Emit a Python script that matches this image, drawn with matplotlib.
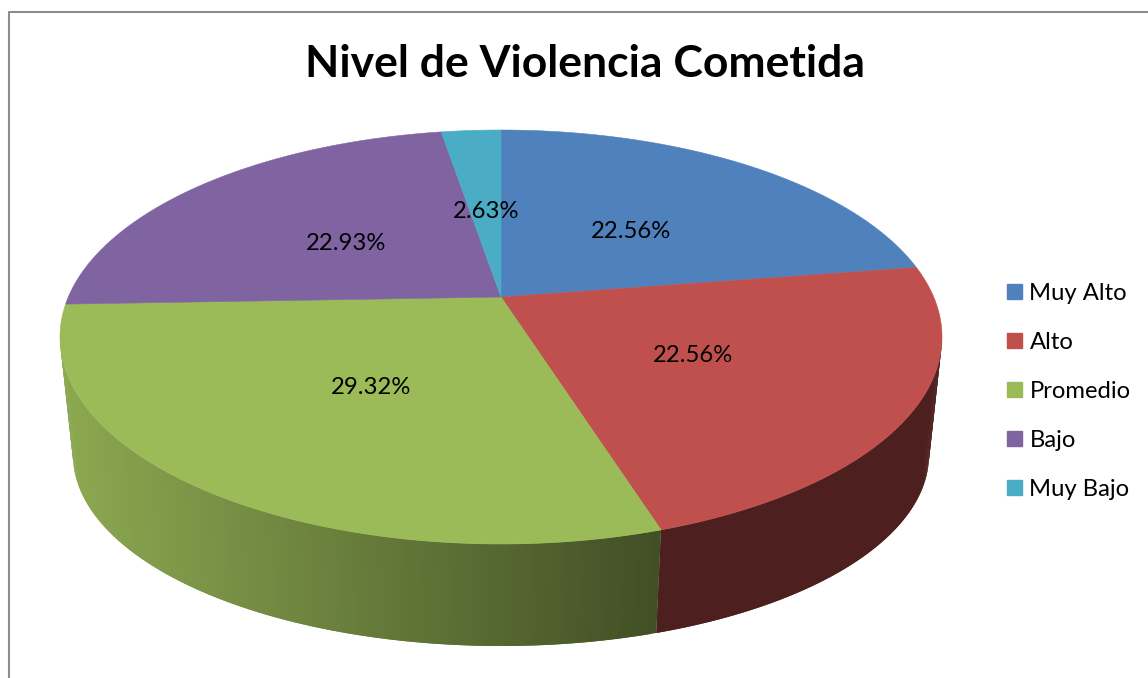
"""
Nivel de Violencia Cometida, a perspective 3D pie drawn from its percentages.
"""

import numpy as np
import matplotlib
matplotlib.use("Agg")
import matplotlib.pyplot as plt
import matplotlib.patches as mpatches
from matplotlib.colors import to_rgb

categories = ["Muy Alto", "Alto", "Promedio", "Bajo", "Muy Bajo"]
values = [22.56, 22.56, 29.32, 22.93, 2.63]
value_labels = ["22.56%", "22.56%", "29.32%", "22.93%", "2.63%"]
colors = ["#4F81BD", "#C0504D", "#9BBB59", "#8064A2", "#4BACC6"]

plt.rcParams["font.family"] = ["Lato", "DejaVu Sans"]

W, H = 1148, 678
TILT = 0.193  # how far the apex sits behind the ellipse centre
TOP = (501, 337, 441, 207)
BOTTOM = (501, 455, 428, 191)
LABEL_POS = [(631, 231), (693, 355), (371, 388), (346, 243), (486, 212)]


def project(theta, r, ellipse):
    """Clockwise angle from 12 o'clock to pixels, through the perspective map."""
    cx, cy, rx, ry = ellipse
    x = r * np.sin(theta)
    y = r * np.cos(theta)
    d = 1 + TILT * y
    xp = x * np.sqrt(1 - TILT ** 2) / d
    yp = (y + TILT) / d
    return cx + rx * xp, cy - ry * yp


fig = plt.figure(figsize=(W / 100, H / 100), dpi=100)
ax = fig.add_axes([0, 0, 1, 1])
ax.set_xlim(0, W)
ax.set_ylim(H, 0)
ax.axis("off")

# chart frame, cut off by the crop on the right and bottom
ax.plot([9, 9, W], [H, 12, 12], color="#8c8c8c", lw=1.5)

edges = 2 * np.pi * np.concatenate([[0], np.cumsum(values)]) / np.sum(values)

# side wall first, only the part facing the viewer
for i, color in enumerate(colors):
    base = np.array(to_rgb(color))
    n = max(3, int((edges[i + 1] - edges[i]) * 100))
    t = np.linspace(edges[i], edges[i + 1], n)
    for j in range(n - 1):
        # each strip runs over the next one so no seams show
        a, b = t[j], t[min(j + 2, n - 1)]
        x1, y1 = project(np.array([a, b]), 1, TOP)
        x2, y2 = project(np.array([b, a]), 1, BOTTOM)
        if max(y1) < TOP[1]:
            continue
        if color == "#9BBB59":
            shade = 0.9 - 0.48 * (np.mean(x1) - 60) / 600
        else:
            shade = 0.4
        ax.fill(np.r_[x1, x2], np.r_[y1, y2], color=base * shade, lw=0, zorder=2)

# top face
for i, color in enumerate(colors):
    t = np.linspace(edges[i], edges[i + 1], 200)
    x, y = project(t, 1, TOP)
    x0, y0 = project(0.0, 0.0, TOP)
    ax.fill(np.r_[x0, x], np.r_[y0, y], color=color, lw=0.4, zorder=3)

for label, (px, py) in zip(value_labels, LABEL_POS):
    ax.text(px, py, label, fontsize=17.2, ha="center", va="center", color="black", zorder=5)

ax.text(585, 64, "Nivel de Violencia Cometida", fontsize=32, fontweight="bold",
        ha="center", va="center", color="black")

handles = [mpatches.Patch(color=c, label=n) for c, n in zip(colors, categories)]
ax.legend(handles=handles, loc="upper left", bbox_to_anchor=(1007, 283),
          bbox_transform=ax.transData, frameon=False, fontsize=17.2, borderpad=0,
          borderaxespad=0, labelspacing=1.17, handlelength=0.64, handleheight=0.64,
          handletextpad=0.3)

fig.savefig("out.png", dpi=100)
